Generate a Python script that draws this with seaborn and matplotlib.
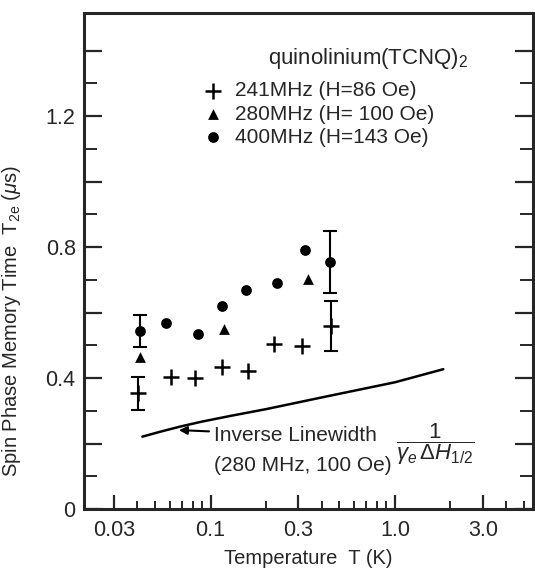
import numpy as np
import pandas as pd
import seaborn as sns
import matplotlib.pyplot as plt
from matplotlib.ticker import FuncFormatter, NullFormatter

# datos
t_241 = [0.0402, 0.0614, 0.0823, 0.116, 0.160, 0.220, 0.315, 0.451]
tau_241 = [0.353, 0.402, 0.399, 0.433, 0.422, 0.503, 0.498, 0.560]
t_280 = [0.0413, 0.118, 0.339]
tau_280 = [0.463, 0.549, 0.701]
t_400 = [0.0413, 0.0571, 0.0854, 0.116, 0.155, 0.228, 0.324, 0.444]
tau_400 = [0.544, 0.567, 0.534, 0.621, 0.668, 0.691, 0.791, 0.754]

# barras de error (T, tau, error)
err_t = [0.0402, 0.451, 0.0413, 0.444]
err_tau = [0.353, 0.560, 0.544, 0.754]
err_val = [0.05, 0.076, 0.05, 0.095]

# inverse linewidth (280 MHz, 100 Oe)
lw_t = [0.0427, 0.055, 0.0688, 0.0883, 0.13, 0.2, 0.419, 1.0, 1.83]
lw_tau = [0.221, 0.238, 0.252, 0.266, 0.285, 0.305, 0.343, 0.387, 0.427]

labels = ['241MHz (H=86 Oe)', '280MHz (H= 100 Oe)', '400MHz (H=143 Oe)']
xticks = [0.03, 0.1, 0.3, 1.0, 3.0]
xticklabels = ['0.03', '0.1', '0.3', '1.0', '3.0']

sns.set_style("ticks")
plt.rcParams['font.family'] = ['Liberation Sans', 'DejaVu Sans']
plt.rcParams['mathtext.fontset'] = 'custom'
plt.rcParams['mathtext.rm'] = 'Liberation Sans'
plt.rcParams['mathtext.it'] = 'Liberation Sans:italic'

fig = plt.figure(figsize=(5.35, 5.73), dpi=100)
ax = fig.add_axes([0.157, 0.1117, 0.839, 0.8656])

series = [(t_241, tau_241, '+', 120, labels[0]),
          (t_280, tau_280, '^', 60, labels[1]),
          (t_400, tau_400, 'o', 60, labels[2])]
for tx, ty, mk, sz, lab in series:
    df = pd.DataFrame({'T': tx, 'tau': ty})
    sns.scatterplot(data=df, x='T', y='tau', marker=mk, s=sz, color='black',
                    linewidth=1.8 if mk == '+' else 0, label=lab, ax=ax, zorder=3)

ax.errorbar(err_t, err_tau, yerr=err_val, fmt='none', ecolor='black',
            elinewidth=1.5, capsize=5, capthick=1.5)

sns.lineplot(x=lw_t, y=lw_tau, color='black', linewidth=1.8, ax=ax)

ax.set_xscale('log')
ax.set_xlim(0.0206, 5.6)
ax.set_ylim(0, 1.515)

ax.set_xticks(xticks)
ax.set_xticklabels(xticklabels)
ax.set_xticks([0.04, 0.05, 0.06, 0.07, 0.08, 0.09, 0.2, 0.4, 0.5, 0.6, 0.7,
               0.8, 0.9, 2.0, 4.0, 5.0], minor=True)
ax.xaxis.set_minor_formatter(NullFormatter())
ax.set_yticks(np.arange(0, 1.45, 0.2))
ax.set_yticks(np.arange(0.1, 1.45, 0.2), minor=True)
ax.yaxis.set_major_formatter(FuncFormatter(
    lambda v, p: ('0' if abs(v) < 1e-9 else f'{v:.1f}') if abs(v / 0.4 - round(v / 0.4)) < 1e-6 else ''))

ax.tick_params(axis='x', which='both', direction='in', top=False, labelsize=15.5, pad=8)
ax.tick_params(axis='x', which='major', length=10, width=1.6)
ax.tick_params(axis='x', which='minor', length=6, width=1.4)
ax.tick_params(axis='y', which='both', direction='in', left=True, right=True, labelsize=15.5, pad=6)
ax.tick_params(axis='y', which='major', length=13, width=1.6)
ax.tick_params(axis='y', which='minor', length=9.5, width=1.4)
for s in ax.spines.values():
    s.set_linewidth(2.2)
    s.set_visible(True)

ax.set_xlabel('Temperature  T (K)', fontsize=14.5, labelpad=6)
ax.set_ylabel(r'Spin Phase Memory Time  T$_{\mathrm{2e}}$ ($\mu$s)', fontsize=14.5)
ax.yaxis.set_label_coords(-0.135, 0.38)

ax.legend(loc='upper left', bbox_to_anchor=(0.265, 0.862), frameon=False,
          fontsize=15, handlelength=1, handletextpad=0.55, labelspacing=0.2,
          borderpad=0, borderaxespad=0)
ax.text(0.41, 0.909, r'quinolinium(TCNQ)$_2$', transform=ax.transAxes,
        fontsize=16, ha='left', va='center')

ax.annotate('Inverse Linewidth', xy=(0.0674, 0.241), xytext=(0.104, 0.226),
            fontsize=15, ha='left', va='center',
            arrowprops=dict(arrowstyle='-|>', color='black', lw=1.5,
                            mutation_scale=12, shrinkA=1, shrinkB=0))
ax.text(0.104, 0.134, '(280 MHz, 100 Oe)', fontsize=15, ha='left', va='center')
ax.text(1.02, 0.198, r'$\dfrac{1}{\gamma_e\,\Delta H_{1/2}}$', fontsize=16,
        ha='left', va='center')

plt.savefig('out.png', dpi=100)
